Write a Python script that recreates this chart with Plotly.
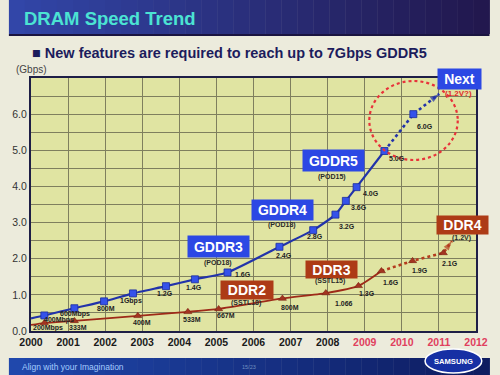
import plotly.graph_objects as go

# ---------------- data ----------------
x_tick_years = [2000, 2001, 2002, 2003, 2004, 2005, 2006, 2007, 2008, 2009, 2010, 2011, 2012]
future_years = [2009, 2010, 2011, 2012]
y_tick_vals = [0, 0.5, 1, 1.5, 2, 2.5, 3, 3.5, 4, 4.5, 5, 5.5, 6, 6.5, 7]
y_tick_text = ["0.0", "", "1.0", "", "2.0", "", "3.0", "", "4.0", "", "5.0", "", "6.0", "", ""]

gddr_years = [2000.0, 2000.36, 2001.17, 2001.97, 2002.75, 2003.64, 2004.42, 2005.30,
              2006.70, 2007.61, 2008.21, 2008.49, 2008.78, 2009.53]
gddr_speed = [0.35, 0.43, 0.63, 0.82, 1.04, 1.24, 1.43, 1.62,
              2.33, 2.79, 3.22, 3.60, 3.98, 4.98]
gddr_labels = ["", "400Mbps", "600Mbps", "800M", "1Gbps", "1.2G", "1.4G", "1.6G",
               "2.4G", "2.8G", "3.2G", "3.6G", "4.0G", "5.0G"]

next_years = [2009.53, 2010.31, 2011.01]
next_speed = [4.98, 6.00, 6.56]
next_labels = ["", "6.0G", ""]

ddr_years = [2000.0, 2000.36, 2001.17, 2002.88, 2004.23, 2005.06, 2006.78, 2007.95, 2008.83, 2009.45]
ddr_speed = [0.17, 0.22, 0.28, 0.42, 0.53, 0.61, 0.90, 1.05, 1.25, 1.66]
ddr_labels = ["", "200Mbps", "333M", "400M", "533M", "667M", "800M", "1.066", "1.3G", "1.6G"]

ddr4_years = [2009.45, 2010.29, 2011.12, 2011.35]
ddr4_speed = [1.66, 1.94, 2.16, 2.49]
ddr4_labels = ["", "1.9G", "2.1G", ""]

# ---------------- styling / layout helpers ----------------
W, H = 500, 375
L, R, T, B = 23, 14, 78, 44
FONT = "Liberation Sans, Arial, sans-serif"

def px(x):
    return (x - L) / (W - L - R)

def py(y):
    return (H - B - y) / (H - T - B)

BLUE_LINE = "#2233aa"
BLUE_MARK = "#3552ea"
BLUE_BOX = "#2c48e4"
BROWN_LINE = "#9e2a18"
BROWN_BOX = "#ad3b16"
FUT_COLOR = "#e0405e"

gddr_off = [(0, 0), (15, 5), (1, 6), (2, 7), (-2, 8), (-1, 7), (-1, 8), (15, 2),
            (5, 9), (2, 6), (12, 12), (13, 7), (14, 6), (13, 7)]
next_off = [(0, 0), (12, 12), (0, 0)]
ddr_off = [(0, 0), (4, 5), (4, 7), (4, 7), (4, 8), (7, 7), (8, 9), (18, 10), (9, 8), (10, 11)]
ddr4_off = [(0, 0), (7, 10), (7, 11), (0, 0)]

fig = go.Figure()

# GDDR solid line
fig.add_trace(go.Scatter(x=gddr_years, y=gddr_speed, mode="lines",
                         line=dict(color=BLUE_LINE, width=2.2, shape="spline", smoothing=0.5),
                         hoverinfo="skip"))
# GDDR projection dotted
fig.add_trace(go.Scatter(x=next_years, y=next_speed, mode="lines",
                         line=dict(color=BLUE_LINE, width=2.6, dash="dot"), hoverinfo="skip"))
# DDR solid
fig.add_trace(go.Scatter(x=ddr_years, y=ddr_speed, mode="lines",
                         line=dict(color=BROWN_LINE, width=1.8, shape="spline", smoothing=0.6),
                         hoverinfo="skip"))
# DDR4 projection dotted
fig.add_trace(go.Scatter(x=ddr4_years, y=ddr4_speed, mode="lines",
                         line=dict(color="#b43c1e", width=2.6, dash="dot"), hoverinfo="skip"))

# markers
fig.add_trace(go.Scatter(x=gddr_years[1:] + next_years[1:-1], y=gddr_speed[1:] + next_speed[1:-1],
                         mode="markers",
                         marker=dict(symbol="square", size=7, color=BLUE_MARK,
                                     line=dict(color="#1c2c9c", width=0.8)),
                         hoverinfo="skip"))
fig.add_trace(go.Scatter(x=ddr_years[1:] + ddr4_years[1:-1], y=ddr_speed[1:] + ddr4_speed[1:-1],
                         mode="markers",
                         marker=dict(symbol="triangle-up", size=7, color="#a33420",
                                     line=dict(color="#7a2010", width=0.6)),
                         hoverinfo="skip"))
# arrow heads
fig.add_trace(go.Scatter(x=next_years[-2:], y=next_speed[-2:], mode="markers",
                         marker=dict(symbol="arrow", size=[0, 10], color=BLUE_LINE,
                                     angleref="previous", line=dict(width=0)),
                         hoverinfo="skip"))
fig.add_trace(go.Scatter(x=ddr4_years[-2:], y=ddr4_speed[-2:], mode="markers",
                         marker=dict(symbol="arrow", size=[0, 10], color="#b43c1e",
                                     angleref="previous", line=dict(width=0)),
                         hoverinfo="skip"))

annotations = []

def point_labels(xs, ys, labels, offs):
    for x, y, t, (dx, dy) in zip(xs, ys, labels, offs):
        if not t:
            continue
        annotations.append(dict(x=x, y=y, xref="x", yref="y", text="<b>" + t + "</b>",
                                showarrow=False, xshift=dx, yshift=-dy,
                                font=dict(family=FONT, size=7, color="#222222")))

point_labels(gddr_years, gddr_speed, gddr_labels, gddr_off)
point_labels(next_years, next_speed, next_labels, next_off)
point_labels(ddr_years, ddr_speed, ddr_labels, ddr_off)
point_labels(ddr4_years, ddr4_speed, ddr4_labels, ddr4_off)

def box(text, cx, cy, w, h, color):
    annotations.append(dict(x=px(cx), y=py(cy), xref="paper", yref="paper",
                            text="<b>" + text + "</b>", showarrow=False,
                            bgcolor=color, width=w - 4, height=h - 4, borderpad=2,
                            font=dict(family=FONT, size=14, color="white"),
                            xanchor="center", yanchor="middle"))

def small(text, cx, cy, color="#2a2a2a", size=7):
    annotations.append(dict(x=px(cx), y=py(cy), xref="paper", yref="paper",
                            text="<b>" + text + "</b>", showarrow=False,
                            font=dict(family=FONT, size=size, color=color),
                            xanchor="center", yanchor="middle"))

box("GDDR3", 218.5, 246.5, 61, 21, BLUE_BOX)
small("(POD18)", 218, 263)
box("GDDR4", 284.5, 210, 61, 20, BLUE_BOX)
small("(POD18)", 284, 225)
box("GDDR5", 337.5, 160.5, 61, 21, BLUE_BOX)
small("(POD15)", 336, 177)
box("Next", 468.5, 79, 43, 20, BLUE_BOX)
small("(1.2V?)", 468, 93, color="#e02828", size=8)
box("DDR2", 248, 290, 52, 18, BROWN_BOX)
small("(SSTL18)", 247, 303)
box("DDR3", 335.5, 269.5, 51, 17, BROWN_BOX)
small("(SSTL15)", 334, 281)
box("DDR4", 471.5, 225, 51, 18, BROWN_BOX)
small("(1.2V)", 471, 238)

# slide texts
annotations.append(dict(x=px(14), y=py(18), xref="paper", yref="paper", xanchor="left",
                        yanchor="middle", showarrow=False, text="<b>DRAM Speed Trend</b>",
                        font=dict(family=FONT, size=18.5, color="#4be3d3")))
annotations.append(dict(x=px(22), y=py(53), xref="paper", yref="paper", xanchor="left",
                        yanchor="middle", showarrow=False,
                        text="<b>■ New features are required to reach up to 7Gbps GDDR5</b>",
                        font=dict(family=FONT, size=14.5, color="#1c1c5c")))
annotations.append(dict(x=px(5), y=py(70), xref="paper", yref="paper", xanchor="left",
                        yanchor="middle", showarrow=False, text="(Gbps)",
                        font=dict(family=FONT, size=10, color="#444444")))
annotations.append(dict(x=px(12), y=py(367), xref="paper", yref="paper", xanchor="left",
                        yanchor="middle", showarrow=False, text="Align with your Imagination",
                        font=dict(family=FONT, size=8.5, color="#a4ccff")))
annotations.append(dict(x=px(250), y=py(367), xref="paper", yref="paper", xanchor="center",
                        yanchor="middle", showarrow=False, text="15/23",
                        font=dict(family=FONT, size=5.5, color="#7090c0")))
annotations.append(dict(x=px(462.5), y=py(361), xref="paper", yref="paper", xanchor="center",
                        yanchor="middle", showarrow=False, text="<b>SAMSUNG</b>",
                        font=dict(family=FONT, size=7.6, color="white")))

shapes = []

def lerp(c1, c2, t):
    return "rgb(%d,%d,%d)" % tuple(int(a + (b - a) * t) for a, b in zip(c1, c2))

# header band gradient
N = 30
for i in range(N):
    x0 = i * W / N
    x1 = (i + 1) * W / N + 0.5
    shapes.append(dict(type="rect", xref="paper", yref="paper", x0=px(x0), x1=px(x1),
                       y0=py(34), y1=py(0), line=dict(width=0),
                       fillcolor=lerp((50, 70, 168), (34, 24, 78), i / (N - 1)), layer="below"))
    shapes.append(dict(type="rect", xref="paper", yref="paper", x0=px(x0), x1=px(x1),
                       y0=py(375), y1=py(358), line=dict(width=0),
                       fillcolor=lerp((32, 72, 172), (14, 28, 96), i / (N - 1)), layer="below"))
shapes.append(dict(type="rect", xref="paper", yref="paper", x0=px(0), x1=px(500),
                   y0=py(36), y1=py(34), line=dict(width=0), fillcolor="#1a1440", layer="below"))

# red dotted circle
shapes.append(dict(type="circle", xref="paper", yref="paper", x0=px(375), x1=px(467),
                   y0=py(160), y1=py(81), line=dict(color="#e8323a", width=2.2, dash="dot")))
# samsung logo
shapes.append(dict(type="circle", xref="paper", yref="paper", x0=px(433), x1=px(492),
                   y0=py(373), y1=py(349), fillcolor="#1630a4",
                   line=dict(color="white", width=1.5)))

ticktext = []
for yv in x_tick_years:
    if yv in future_years:
        ticktext.append('<span style="color:%s">%d</span>' % (FUT_COLOR, yv))
    else:
        ticktext.append(str(yv))

fig.update_layout(
    width=W, height=H,
    margin=dict(l=L, r=R, t=T, b=B, pad=0),
    paper_bgcolor="#ecebdc",
    plot_bgcolor="#e0e4a2",
    showlegend=False,
    annotations=annotations,
    shapes=shapes,
    xaxis=dict(range=[2000, 2012], tickvals=x_tick_years, ticktext=ticktext,
               showgrid=True, gridcolor="#7f7f5e", gridwidth=0.8,
               showline=True, linecolor="#1e1e46", linewidth=2, mirror=True,
               zeroline=False, ticks="", fixedrange=True,
               tickfont=dict(family=FONT, size=10.5, color="#1a1a1a", weight="bold")),
    yaxis=dict(range=[0, 7], tickvals=y_tick_vals, ticktext=y_tick_text,
               showgrid=True, gridcolor="#7f7f5e", gridwidth=0.8,
               showline=True, linecolor="#1e1e46", linewidth=2, mirror=True,
               zeroline=False, ticks="", fixedrange=True,
               tickfont=dict(family=FONT, size=10.5, color="#333333")),
)

fig.write_html("out.html", config={"displayModeBar": False},
               post_script="document.body.style.margin='0px';document.body.style.overflow='hidden';")
